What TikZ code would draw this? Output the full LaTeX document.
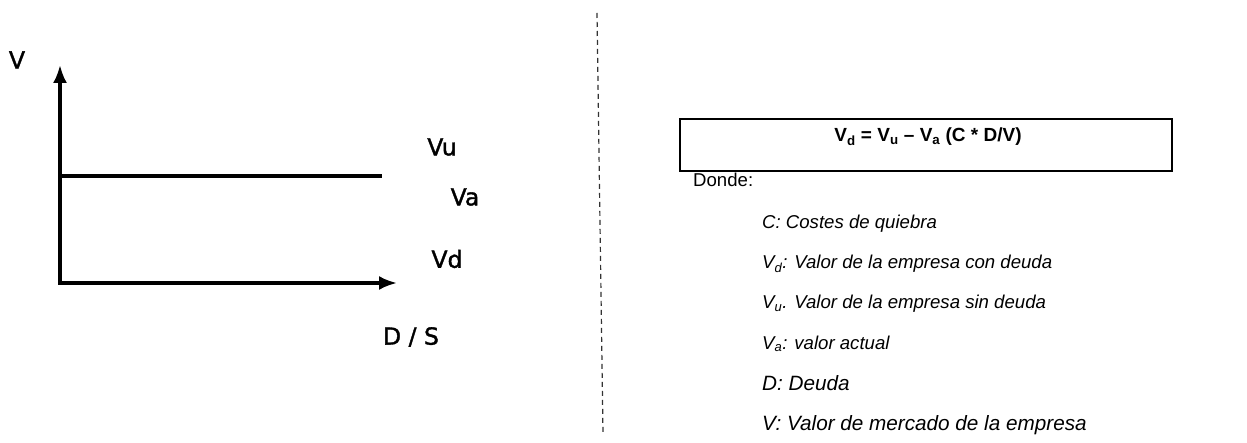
\documentclass[tikz,border=0pt]{standalone}
\usepackage{fontspec}
\setmainfont{Liberation Sans}
\newfontfamily\plotfont[FakeBold=1.5]{DejaVu Sans}
\usetikzlibrary{arrows.meta}
\begin{document}
\begin{tikzpicture}[x=1pt,y=-1pt,
  thickline/.style={line width=3.2pt, line join=miter},
  bothtips/.style={{Latex[length=18pt,width=14pt]}-{Latex[length=18pt,width=14pt]}},
  plotlabel/.style={font=\plotfont\fontsize{23.5}{26}\selectfont, inner sep=0pt},
  divider/.style={draw=black!80, line width=1.2pt, dash pattern=on 5pt off 4pt},
  formulabox/.style={draw, line width=2pt, minimum width=492pt, minimum height=52pt, inner sep=0pt},
  formulatext/.style={font=\bfseries\fontsize{19}{22}\selectfont, inner sep=0pt, anchor=base},
  plaintext/.style={font=\fontsize{18.6}{22}\selectfont, inner sep=0pt, anchor=base west},
  item/.style={font=\itshape\fontsize{18.6}{22}\selectfont, inner sep=0pt, anchor=base west},
  bigitem/.style={font=\itshape\fontsize{20.7}{24}\selectfont, inner sep=0pt, anchor=base west}
]
\useasboundingbox (0,0) rectangle (1247,443);

% ---- left panel: value of the firm against leverage ----
\coordinate (origin) at (60,283);
\coordinate (ytip) at (60,65);
\coordinate (xtip) at (397,283);
\coordinate (vustart) at (60,176);
\coordinate (vuend) at (382,176);

\draw[thickline, bothtips] (ytip) -- (origin) -- (xtip);
\draw[thickline] (vustart) -- (vuend);

\node[plotlabel] (vlabel) at (17,60) {V};
\node[plotlabel] (vulabel) at (442,147) {Vu};
\node[plotlabel] (valabel) at (465,197) {Va};
\node[plotlabel] (vdlabel) at (447,259) {Vd};
\node[plotlabel] (dslabel) at (411,337) {D / S};

% ---- separator ----
\coordinate (divtop) at (597,13);
\coordinate (divbot) at (603,434);
\draw[divider] (divtop) -- (divbot);

% ---- right panel: formula and legend ----
\node[formulabox] (box) at (926,145) {};
\node[formulatext] (formula) at (928,142)
  {V\textsubscript{d} = V\textsubscript{u} – V\textsubscript{a} (C * D/V)};

\node[plaintext] (donde) at (693,187) {Donde:};

\node[item] (itemc) at (762,229) {C: Costes de quiebra};
\node[item] (itemvd) at (762,269) {V\textsubscript{d}: Valor de la empresa con deuda};
\node[item] (itemvu) at (762,309) {V\textsubscript{u}. Valor de la empresa sin deuda};
\node[item] (itemva) at (762,349) {V\textsubscript{a}: valor actual};
\node[bigitem] (itemd) at (762,390) {D: Deuda};
\node[bigitem] (itemv) at (762,430) {V: Valor de mercado de la empresa};
\end{tikzpicture}
\end{document}
